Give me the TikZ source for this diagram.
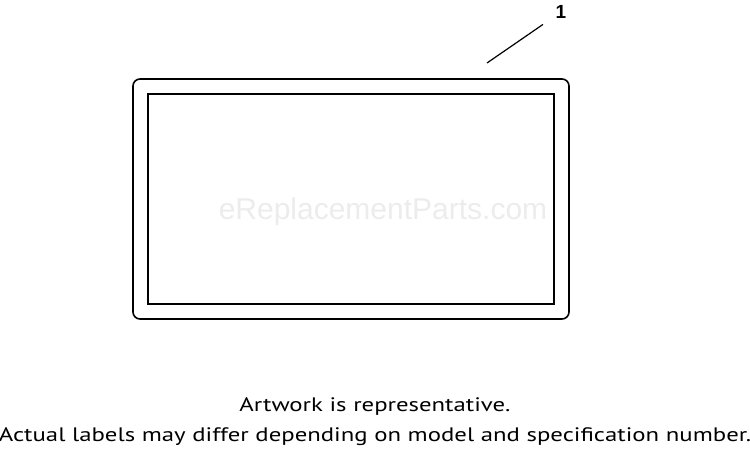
\documentclass[tikz,border=0pt]{standalone}
\usepackage{fontspec}
\setmainfont{PT Sans}
\setsansfont{Liberation Sans}
\newfontfamily\markfont{Liberation Sans}
\newfontfamily\notefont[FakeStretch=1.27]{PT Sans}
\usetikzlibrary{positioning}

\tikzset{
	panel/.style={draw, line width=1.6pt, rounded corners=7pt},
	window/.style={draw, line width=1.3pt},
	leader/.style={line width=1.2pt},
	note/.style={font=\notefont\fontsize{19.5}{22}\selectfont, inner sep=0pt},
}

\begin{document}
\begin{tikzpicture}[x=1pt, y=-1pt]
	\useasboundingbox (0,0) rectangle (750,453);

	% label part
	\node[panel, minimum width=436pt, minimum height=240pt] (outer) at (351,199) {};
	\node[window, minimum width=406pt, minimum height=210pt] (inner) at (outer.center) {};

	% watermark
	\node[font=\markfont\fontsize{30}{33}\selectfont, text=gray!15] (mark) at (383,212) {eReplacementParts.com};

	% callout
	\node[font=\sffamily\bfseries\fontsize{19}{21}\selectfont, inner sep=1pt] (callout) at (561,12) {1};
	\coordinate (tip) at (487,63);
	\draw[leader, shorten >=14pt] (tip) -- (callout);

	% notes
	\node[note] (line1) at (375,407) {Artwork is representative.};
	\node[note] (line2) at (375,437) {Actual labels may differ depending on model and specification number.};
\end{tikzpicture}
\end{document}
